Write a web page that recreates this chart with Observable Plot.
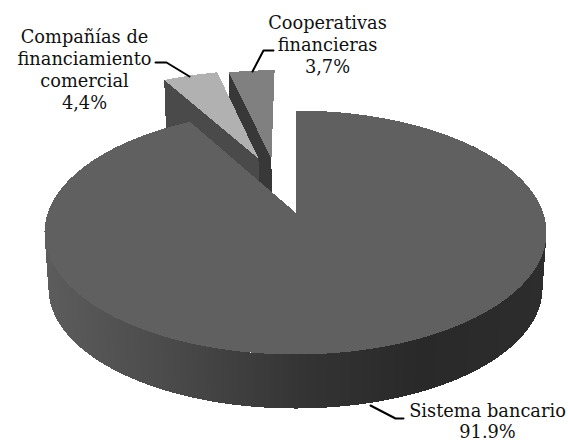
<!DOCTYPE html>
<html><head><meta charset="utf-8">
<script src="https://cdn.jsdelivr.net/npm/d3@7"></script>
<script src="https://cdn.jsdelivr.net/npm/@observablehq/plot@0.6"></script>
<style>html,body{margin:0;padding:0;background:#fff}svg{display:block}</style>
</head><body><div id="c"></div>
<script>
const categories = ["Sistema bancario", "Compañías de\nfinanciamiento\ncomercial", "Cooperativas\nfinancieras"];
const values = [91.9, 4.4, 3.7];
const valueLabels = ["91.9%", "4,4%", "3,7%"];

// projection of the tilted disc
const W = 568, H = 441;
const CX = 295, CY = 212, A = 247.6, B = 118.7, K = 0.164, DEPTH = 56.3, F = 0.984;
const explode = [[0, 0], [-0.1615, -0.4916], [-0.105, -0.4916]];
const topFill = ["#606060", "#b1b1b1", "#808080"];
const wallFill = [null, "#4a4a4a", "#383838"];
const labelAt = [[487, 420], [84, 68.5], [327, 43.5]];
const leaders = [
  [[370, 405], [395, 418], [403, 418]],
  [[155, 62], [166, 62], [189, 76]],
  [[273, 50], [263, 50], [252, 71]]
];

function proj(u, v, low) {
  const s = 1 / (1 - K * v), f = low ? F : 1;
  return { x: CX + A * f * u * s, y: CY + (low ? DEPTH : 0) + B * f * v * s };
}
// clockwise angle from 12 o'clock, in radians, v points towards the viewer
const rim = (a, e, low) => proj(e[0] + Math.sin(a), e[1] - Math.cos(a), low);

const total = d3.sum(values);
let acc = 0;
const slices = values.map((v, i) => {
  const a0 = acc / total * 2 * Math.PI; acc += v;
  return { i, a0, a1: acc / total * 2 * Math.PI, e: explode[i] };
});

function face(s) {
  const n = Math.max(4, Math.ceil((s.a1 - s.a0) / 0.01));
  const pts = [proj(s.e[0], s.e[1], false)];
  for (let j = 0; j <= n; j++) pts.push(rim(s.a0 + (s.a1 - s.a0) * j / n, s.e, false));
  pts.push(pts[0]);
  return pts;
}
function cutWall(s) {
  const c0 = proj(s.e[0], s.e[1], false), c1 = proj(s.e[0], s.e[1], true);
  const p0 = rim(s.a0, s.e, false), p1 = rim(s.a0, s.e, true);
  return [p0, c0, c1, p1, p0];
}
// shading of the main slice's outer wall, by horizontal position
const shade = d3.scaleLinear([45, 170, 300, 420, 547], ["#5c5c5c", "#4a4a4a", "#343434", "#292929", "#2d2d2d"]).clamp(true);
const main = slices[0], strips = [];
const dA = 0.012;
for (let a = main.a0, id = 0; a < main.a1; a += dA, id++) {
  const b = Math.min(a + dA * 1.3, main.a1);
  const q = [rim(a, main.e, false), rim(b, main.e, false), rim(b, main.e, true), rim(a, main.e, true)];
  const col = d3.color(shade((q[0].x + q[1].x) / 2)).formatHex();
  q.forEach(p => strips.push({ ...p, id, col }));
}
const poly = (pts, fill) => Plot.line(pts, { x: "x", y: "y", fill, stroke: "none", shapeRendering: "crispEdges" });

const labelRows = categories.map((c, i) => ({ t: c + "\n" + valueLabels[i], x: labelAt[i][0], y: labelAt[i][1] }));

document.getElementById("c").append(Plot.plot({
  width: W, height: H, margin: 0,
  x: { axis: null, domain: [0, W], range: [0, W] },
  y: { axis: null, domain: [0, H], range: [0, H] },
  style: { background: "#fff" },
  marks: [
    poly(cutWall(slices[2]), wallFill[2]),
    poly(face(slices[2]), topFill[2]),
    poly(cutWall(slices[1]), wallFill[1]),
    poly(face(slices[1]), topFill[1]),
    Plot.line(strips, { x: "x", y: "y", z: "id", fill: "col", stroke: "none", shapeRendering: "crispEdges" }),
    poly(face(slices[0]), topFill[0]),
    ...leaders.map(l => Plot.line(l, { x: d => d[0], y: d => d[1], stroke: "#000", strokeWidth: 2 })),
    Plot.text(labelRows, { x: "x", y: "y", text: "t", fontFamily: "DejaVu Serif", fontSize: 17.8, lineHeight: 1.23, fill: "#111", textAnchor: "middle", lineAnchor: "middle" })
  ]
}));
</script></body></html>
